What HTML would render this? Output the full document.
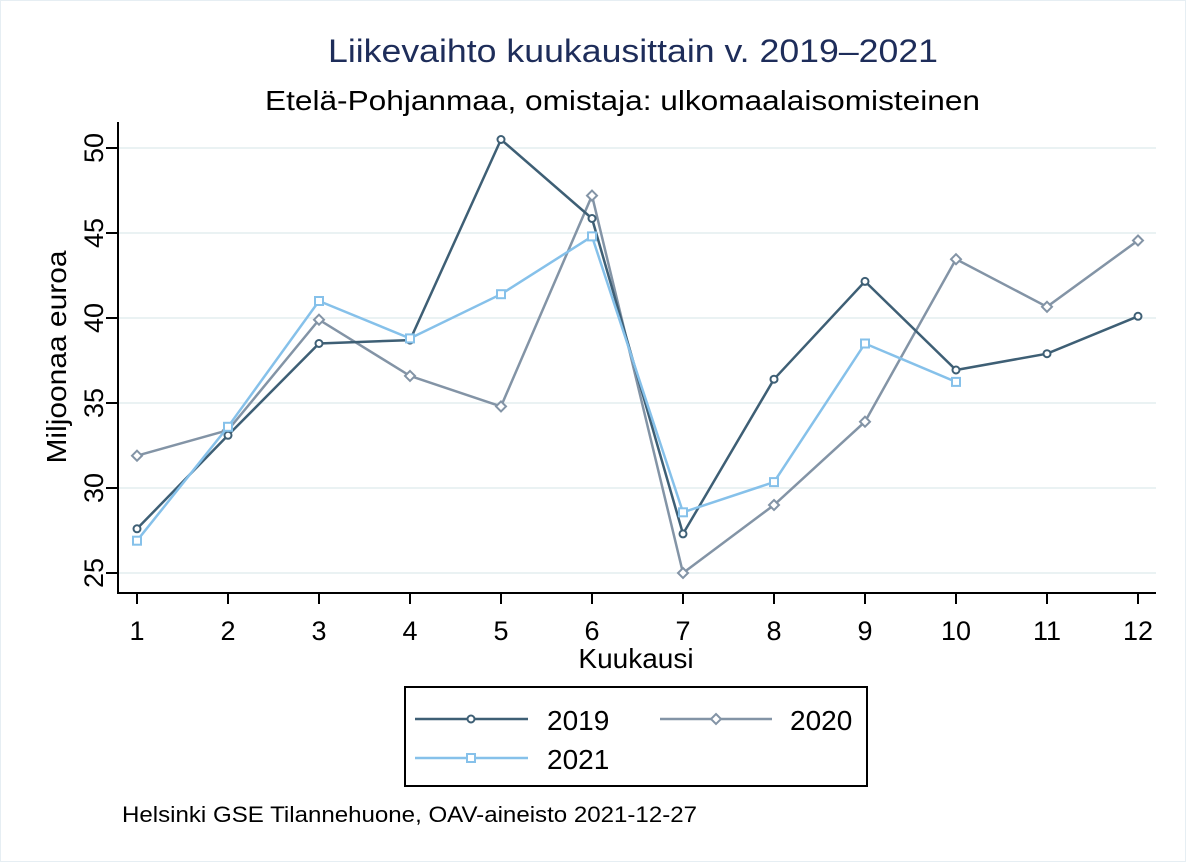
<!DOCTYPE html>
<html><head><meta charset="utf-8"><style>
html,body{margin:0;padding:0;background:#fff;}
svg{display:block;font-family:"Liberation Sans",Arial,sans-serif;}
</style></head><body>
<svg width="1186" height="862" viewBox="0 0 1186 862" xmlns="http://www.w3.org/2000/svg">
<rect x="0.5" y="0.5" width="1185" height="861" fill="#fff" stroke="#e6eef3"/>
<text x="328" y="62" font-size="32" fill="#1e2d5a" textLength="610" lengthAdjust="spacingAndGlyphs">Liikevaihto kuukausittain v. 2019–2021</text>
<text x="265" y="110" font-size="28" fill="#000" textLength="715" lengthAdjust="spacingAndGlyphs">Etelä-Pohjanmaa, omistaja: ulkomaalaisomisteinen</text>
<g stroke="#eaf2f3" stroke-width="2">
<line x1="118" x2="1156" y1="148" y2="148"/><line x1="118" x2="1156" y1="233" y2="233"/>
<line x1="118" x2="1156" y1="318" y2="318"/><line x1="118" x2="1156" y1="403" y2="403"/>
<line x1="118" x2="1156" y1="488" y2="488"/><line x1="118" x2="1156" y1="573" y2="573"/>
</g>
<g stroke="#000" stroke-width="2" fill="none">
<polyline points="118,122 118,593 1156,593"/>
<path d="M106,148H118M106,233H118M106,318H118M106,403H118M106,488H118M106,573H118"/>
<path d="M137,593v11M228,593v11M319,593v11M410,593v11M501,593v11M592,593v11M683,593v11M774,593v11M865,593v11M956,593v11M1047,593v11M1138,593v11"/>
</g>
<g font-size="27" fill="#000" text-anchor="middle">
<text transform="translate(103,148) rotate(-90)">50</text>
<text transform="translate(103,233) rotate(-90)">45</text>
<text transform="translate(103,318) rotate(-90)">40</text>
<text transform="translate(103,403) rotate(-90)">35</text>
<text transform="translate(103,488) rotate(-90)">30</text>
<text transform="translate(103,573) rotate(-90)">25</text>
<text transform="translate(66,357) rotate(-90)" font-size="28" textLength="213" lengthAdjust="spacingAndGlyphs">Miljoonaa euroa</text>
<text x="137" y="640">1</text><text x="228" y="640">2</text><text x="319" y="640">3</text><text x="410" y="640">4</text>
<text x="501" y="640">5</text><text x="592" y="640">6</text><text x="683" y="640">7</text><text x="774" y="640">8</text>
<text x="865" y="640">9</text><text x="956" y="640">10</text><text x="1047" y="640">11</text><text x="1138" y="640">12</text>
<text x="636" y="668" font-size="28">Kuukausi</text>
</g>
<!-- 2020 -->
<polyline fill="none" stroke="#8394a6" stroke-width="2.5" points="137,455.7 228,430.2 319,319.7 410,375.9 501,406.4 592,195.6 683,573 774,505 865,421.7 956,259.2 1047,306.8 1138,240.5"/>
<g fill="#fff" stroke="#8394a6" stroke-width="2">
<path d="M137,450.7l5,5l-5,5l-5,-5z M228,425.2l5,5l-5,5l-5,-5z M319,314.7l5,5l-5,5l-5,-5z M410,370.9l5,5l-5,5l-5,-5z M501,401.4l5,5l-5,5l-5,-5z M592,190.6l5,5l-5,5l-5,-5z M683,568l5,5l-5,5l-5,-5z M774,500l5,5l-5,5l-5,-5z M865,416.7l5,5l-5,5l-5,-5z M956,254.2l5,5l-5,5l-5,-5z M1047,301.8l5,5l-5,5l-5,-5z M1138,235.5l5,5l-5,5l-5,-5z"/>
</g>
<!-- 2019 -->
<polyline fill="none" stroke="#3e5f75" stroke-width="2.5" points="137,528.8 228,435.3 319,343.5 410,340.1 501,139.5 592,218.5 683,533.9 774,379.2 865,281.4 956,370 1047,353.7 1138,316.3"/>
<g fill="#fff" stroke="#3e5f75" stroke-width="2">
<circle cx="137" cy="528.8" r="3.5"/><circle cx="228" cy="435.3" r="3.5"/><circle cx="319" cy="343.5" r="3.5"/><circle cx="410" cy="340.1" r="3.5"/><circle cx="501" cy="139.5" r="3.5"/><circle cx="592" cy="218.5" r="3.5"/><circle cx="683" cy="533.9" r="3.5"/><circle cx="774" cy="379.2" r="3.5"/><circle cx="865" cy="281.4" r="3.5"/><circle cx="956" cy="370" r="3.5"/><circle cx="1047" cy="353.7" r="3.5"/><circle cx="1138" cy="316.3" r="3.5"/>
</g>
<!-- 2021 -->
<polyline fill="none" stroke="#86c1ea" stroke-width="2.5" points="137,540.7 228,426.8 319,301 410,338.4 501,294.2 592,236.4 683,512.3 774,482.1 865,343.5 956,381.9"/>
<g fill="#fff" stroke="#86c1ea" stroke-width="2">
<rect x="133" y="536.7" width="8" height="8"/><rect x="224" y="422.8" width="8" height="8"/><rect x="315" y="297" width="8" height="8"/><rect x="406" y="334.4" width="8" height="8"/><rect x="497" y="290.2" width="8" height="8"/><rect x="588" y="232.4" width="8" height="8"/><rect x="679" y="508.3" width="8" height="8"/><rect x="770" y="478.1" width="8" height="8"/><rect x="861" y="339.5" width="8" height="8"/><rect x="952" y="377.9" width="8" height="8"/>
</g>
<!-- legend -->
<rect x="405" y="687" width="462" height="99" fill="#fff" stroke="#000" stroke-width="2"/>
<line x1="415" x2="528" y1="719" y2="719" stroke="#3e5f75" stroke-width="2.5"/>
<circle cx="471" cy="719" r="3.5" fill="#fff" stroke="#3e5f75" stroke-width="2"/>
<line x1="660" x2="772" y1="719" y2="719" stroke="#8394a6" stroke-width="2.5"/>
<path d="M716,714l5,5l-5,5l-5,-5z" fill="#fff" stroke="#8394a6" stroke-width="2"/>
<line x1="415" x2="528" y1="758" y2="758" stroke="#86c1ea" stroke-width="2.5"/>
<rect x="467" y="754" width="8" height="8" fill="#fff" stroke="#86c1ea" stroke-width="2"/>
<g font-size="28" fill="#000">
<text x="547" y="730">2019</text><text x="790" y="730">2020</text><text x="547" y="769">2021</text>
</g>
<text x="122" y="822" font-size="22" fill="#000" textLength="575" lengthAdjust="spacingAndGlyphs">Helsinki GSE Tilannehuone, OAV-aineisto 2021-12-27</text>
</svg>
</body></html>
